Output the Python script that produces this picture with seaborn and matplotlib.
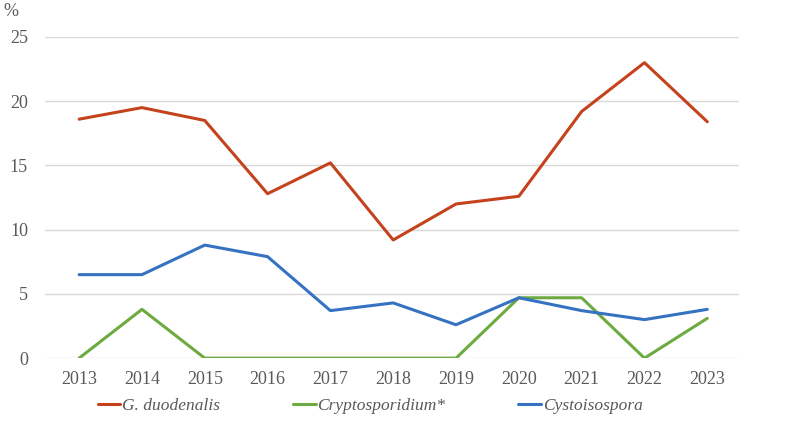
import pandas as pd
import matplotlib
matplotlib.use('Agg')
import matplotlib.pyplot as plt
import seaborn as sns

years = [2013, 2014, 2015, 2016, 2017, 2018, 2019, 2020, 2021, 2022, 2023]
giardia = [18.6, 19.5, 18.5, 12.8, 15.2, 9.2, 12.0, 12.6, 19.2, 23.0, 18.4]
crypto = [0, 3.8, 0, 0, 0, 0, 0, 4.7, 4.7, 0, 3.1]
cysto = [6.5, 6.5, 8.8, 7.9, 3.7, 4.3, 2.6, 4.7, 3.7, 3.0, 3.8]
names = ['G. duodenalis', 'Cryptosporidium*', 'Cystoisospora']
colors = ['#C4431D', '#6DAA3F', '#3572C2']

df = pd.DataFrame({'year': years * 3,
                   'value': giardia + crypto + cysto,
                   'series': [n for n in names for _ in years]})
df['pos'] = df['year'] - years[0]

sns.set_theme(style='white')
plt.rcParams['font.family'] = ['Liberation Serif', 'DejaVu Serif']

fig, ax = plt.subplots(figsize=(7.96, 4.40), dpi=100)
fig.subplots_adjust(left=0.056, right=0.928, top=0.916, bottom=0.186)

sns.lineplot(data=df, x='pos', y='value', hue='series', palette=colors,
             hue_order=names, linewidth=2.2, ax=ax, legend=False)

ax.set_xlim(-0.55, len(years) - 0.5)
ax.set_ylim(0, 25)
ax.set_xticks(range(len(years)))
ax.set_xticklabels([str(y) for y in years])
ax.set_yticks([0, 5, 10, 15, 20, 25])
ax.yaxis.grid(True, color='#D9D9D9', linewidth=1)
ax.xaxis.grid(False)
for s in ax.spines.values():
    s.set_visible(False)
ax.tick_params(axis='both', length=0, labelsize=13, labelcolor='#595959')
ax.tick_params(axis='x', pad=9)
ax.tick_params(axis='y', pad=12)
ax.set_xlabel('')
ax.set_ylabel('')

fig.text(0.004, 0.975, '%', fontsize=13, color='#595959', ha='left', va='center')

handles = [plt.Line2D([], [], color=c, linewidth=2.2) for c in colors]
fig.legend(handles, names, loc='center', bbox_to_anchor=(0.465, 0.078), ncol=3,
           frameon=False, handlelength=1.3, handletextpad=0.1, columnspacing=4.2,
           prop={'style': 'italic', 'size': 12.5}, labelcolor='#595959')

fig.savefig('out.png', dpi=100)
